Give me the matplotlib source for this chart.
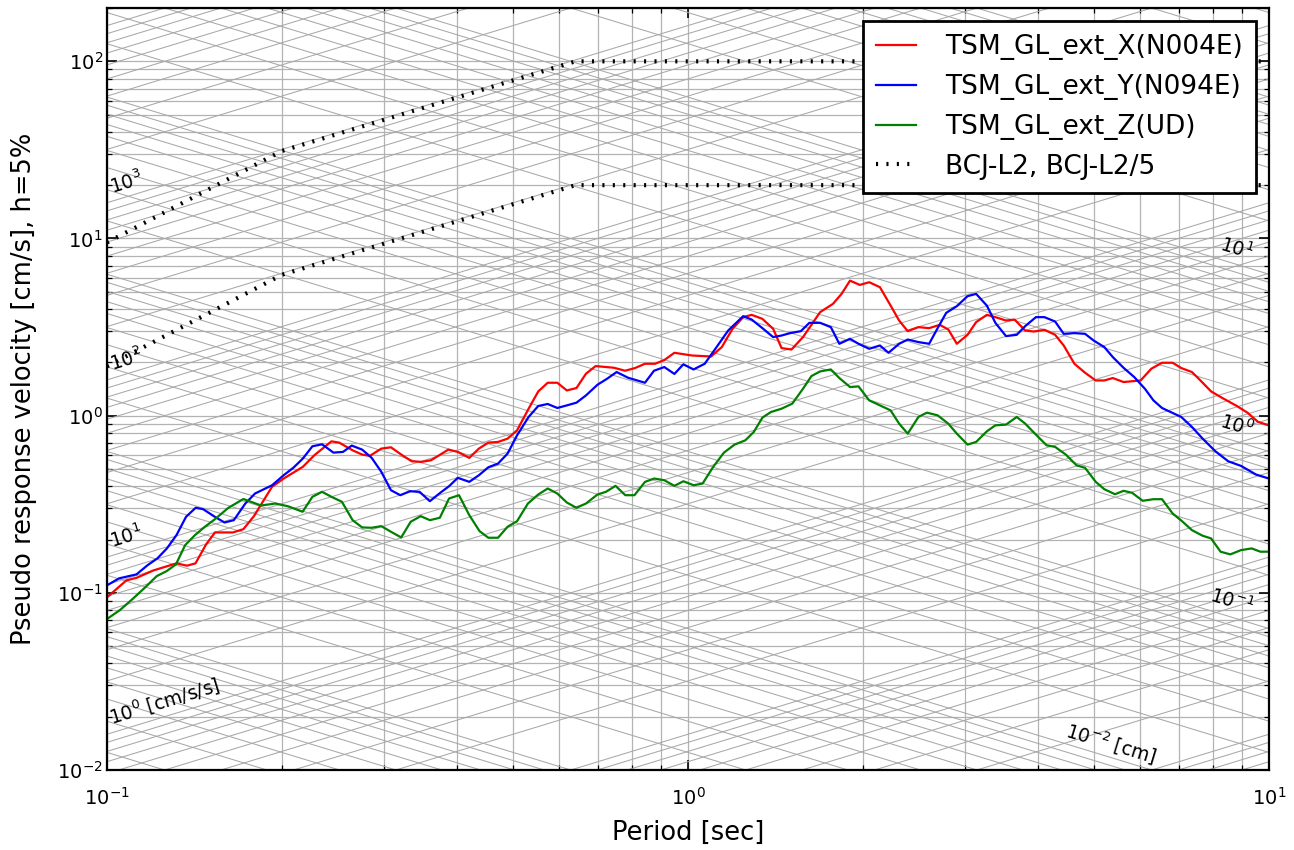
import numpy as np
import matplotlib
matplotlib.use("Agg")
import matplotlib.pyplot as plt

# ---------------- data ----------------
x_period = [0.1, 0.108, 0.1124, 0.1202, 0.1317, 0.1373, 0.142, 0.1481, 0.1534, 0.1647,
            0.1717, 0.1791, 0.1923, 0.2014, 0.2173, 0.2274, 0.2434, 0.251, 0.2647, 0.2749,
            0.2834, 0.2966, 0.3081, 0.3223, 0.3346, 0.3476, 0.3611, 0.3868, 0.4016, 0.4203,
            0.4366, 0.4533, 0.471, 0.4892, 0.5079, 0.5317, 0.5524, 0.5735, 0.5957, 0.6187,
            0.6427, 0.6674, 0.6934, 0.7458, 0.7791, 0.8107, 0.8432, 0.8774, 0.9104, 0.9475,
            1.0156, 1.0958, 1.1433, 1.1929, 1.2445, 1.287, 1.3429, 1.4014, 1.449, 1.507,
            1.5773, 1.688, 1.7761, 1.8377, 1.9004, 1.9755, 2.0507, 2.1397, 2.2322, 2.3088,
            2.3888, 2.4924, 2.6004, 2.7121, 2.8056, 2.9018, 3.0279, 3.1329, 3.2685, 3.3806,
            3.5266, 3.6475, 3.8056, 3.9376, 4.1065, 4.2843, 4.4328, 4.6248, 4.8239, 5.0321,
            5.2066, 5.385, 5.6177, 6.0117, 6.2721, 6.5441, 6.825, 7.0622, 7.368, 7.6205,
            7.9504, 8.2951, 8.8022, 9.1808, 9.5775, 10.0]
x_sv = [0.0943, 0.1176, 0.1215, 0.1338, 0.1467, 0.1423, 0.1467, 0.1876, 0.2192, 0.2192,
        0.2288, 0.2715, 0.3966, 0.4417, 0.5141, 0.5975, 0.7163, 0.7044, 0.6374, 0.603,
        0.5929, 0.6518, 0.6629, 0.5975, 0.5528, 0.5485, 0.56, 0.6432, 0.6243, 0.5777,
        0.6518, 0.7044, 0.7108, 0.7418, 0.8264, 1.095, 1.37, 1.534, 1.534, 1.388,
        1.432, 1.725, 1.905, 1.864, 1.793, 1.857, 1.963, 1.963, 2.06, 2.264,
        2.186, 2.158, 2.438, 3.091, 3.598, 3.707, 3.519, 3.091, 2.406, 2.363,
        2.776, 3.839, 4.275, 4.868, 5.783, 5.47, 5.665, 5.31, 4.182, 3.443,
        3.0, 3.16, 3.119, 3.256, 3.064, 2.545, 2.86, 3.373, 3.707, 3.598,
        3.443, 3.487, 3.024, 2.985, 3.051, 2.86, 2.489, 1.963, 1.747, 1.58,
        1.58, 1.631, 1.548, 1.58, 1.84, 1.989, 1.989, 1.857, 1.763, 1.58,
        1.37, 1.263, 1.134, 1.04, 0.9215, 0.8818]

y_period = [0.1, 0.1049, 0.1124, 0.1175, 0.1221, 0.1268, 0.1317, 0.1368, 0.1421, 0.1464,
            0.1533, 0.1593, 0.1653, 0.173, 0.1798, 0.1924, 0.2014, 0.2092, 0.2173, 0.2257,
            0.2345, 0.2453, 0.2548, 0.2638, 0.2749, 0.2855, 0.2966, 0.3081, 0.3198, 0.3321,
            0.3451, 0.3595, 0.3752, 0.3879, 0.4016, 0.4203, 0.4366, 0.4533, 0.471, 0.4892,
            0.5079, 0.5317, 0.5524, 0.5735, 0.5957, 0.6187, 0.6427, 0.6674, 0.6986, 0.7257,
            0.7536, 0.7886, 0.8432, 0.8739, 0.9104, 0.9475, 0.9819, 1.022, 1.0684, 1.1146,
            1.1727, 1.2445, 1.287, 1.3429, 1.4014, 1.449, 1.4994, 1.5642, 1.6178, 1.688,
            1.7614, 1.8217, 1.9004, 1.9654, 2.0507, 2.1397, 2.2137, 2.3088, 2.3888, 2.4924,
            2.6004, 2.6896, 2.7823, 2.9018, 3.0279, 3.1329, 3.2685, 3.3806, 3.5266, 3.6795,
            3.8056, 3.9705, 4.1065, 4.2843, 4.4328, 4.6248, 4.8239, 4.9905, 5.2066, 5.385,
            5.6177, 5.8614, 6.115, 6.3249, 6.5441, 6.7685, 7.0622, 7.368, 7.6872, 8.087,
            8.5073, 8.9485, 9.4983, 10.0]
y_sv = [0.1102, 0.1207, 0.1271, 0.1434, 0.1565, 0.1781, 0.2117, 0.2687, 0.302, 0.2965,
        0.2687, 0.2495, 0.2571, 0.3192, 0.3636, 0.4049, 0.461, 0.5075, 0.5727, 0.6716,
        0.6893, 0.6187, 0.6243, 0.6778, 0.6432, 0.5777, 0.4818, 0.3795, 0.3557, 0.3746,
        0.3717, 0.329, 0.3684, 0.3997, 0.4457, 0.4232, 0.461, 0.5115, 0.5364, 0.6109,
        0.7744, 0.9833, 1.134, 1.164, 1.105, 1.143, 1.184, 1.301, 1.495, 1.616,
        1.763, 1.637, 1.534, 1.793, 1.881, 1.72, 1.95, 1.823, 1.963, 2.385,
        3.024, 3.645, 3.487, 3.119, 2.776, 2.834, 2.924, 3.0, 3.342, 3.342,
        3.16, 2.545, 2.715, 2.545, 2.385, 2.489, 2.264, 2.545, 2.69, 2.602,
        2.545, 3.119, 3.804, 4.15, 4.725, 4.868, 4.182, 3.342, 2.812, 2.86,
        3.202, 3.598, 3.598, 3.399, 2.897, 2.924, 2.897, 2.656, 2.438, 2.141,
        1.864, 1.652, 1.419, 1.22, 1.105, 1.049, 0.9833, 0.8636, 0.7418, 0.6292,
        0.5528, 0.5207, 0.4652, 0.4417]

z_period = [0.1, 0.1053, 0.111, 0.1162, 0.1218, 0.1267, 0.1314, 0.1363, 0.1417, 0.1474,
            0.1534, 0.1618, 0.1717, 0.1841, 0.195, 0.2049, 0.2171, 0.2257, 0.2345, 0.2434,
            0.2537, 0.2647, 0.2749, 0.2855, 0.2966, 0.3081, 0.3209, 0.3332, 0.3467, 0.3595,
            0.374, 0.3879, 0.4035, 0.4203, 0.4378, 0.4533, 0.471, 0.4892, 0.5079, 0.5302,
            0.5524, 0.5735, 0.5957, 0.6187, 0.6427, 0.6674, 0.6986, 0.7224, 0.7503, 0.78,
            0.8088, 0.8435, 0.8747, 0.9104, 0.9475, 0.9819, 1.0225, 1.0596, 1.1051, 1.153,
            1.2027, 1.2548, 1.298, 1.3429, 1.3893, 1.449, 1.5118, 1.5773, 1.6313, 1.688,
            1.7614, 1.8217, 1.9004, 1.9654, 2.0507, 2.1397, 2.2322, 2.3088, 2.3888, 2.4924,
            2.5777, 2.6896, 2.8056, 2.9018, 3.0279, 3.1329, 3.2685, 3.3806, 3.5266, 3.6795,
            3.8056, 3.9705, 4.1418, 4.2843, 4.4699, 4.6635, 4.8239, 5.0321, 5.2066, 5.4321,
            5.6177, 5.8127, 6.0617, 6.3249, 6.5441, 6.825, 7.0845, 7.368, 7.6872, 7.9504,
            8.2526, 8.5783, 8.9485, 9.3381, 9.6616, 10.0]
z_sv = [0.07118, 0.08, 0.09312, 0.107, 0.1243, 0.1327, 0.1447, 0.1859, 0.2117, 0.236,
        0.2605, 0.302, 0.3385, 0.3112, 0.3192, 0.308, 0.2868, 0.3483, 0.3717, 0.3483,
        0.3265, 0.2571, 0.2339, 0.233, 0.2379, 0.2212, 0.2054, 0.2519, 0.2709, 0.2571,
        0.2653, 0.3407, 0.3557, 0.2745, 0.2229, 0.2046, 0.2046, 0.236, 0.2538, 0.3192,
        0.3589, 0.388, 0.3636, 0.3234, 0.302, 0.3192, 0.3589, 0.3717, 0.4017, 0.3557,
        0.3557, 0.4232, 0.4417, 0.432, 0.4017, 0.4264, 0.4049, 0.4139, 0.5141, 0.6187,
        0.6866, 0.7256, 0.8094, 0.9744, 1.049, 1.095, 1.169, 1.419, 1.674, 1.777,
        1.823, 1.631, 1.451, 1.463, 1.22, 1.143, 1.071, 0.9014, 0.7918, 0.9833,
        1.04, 1.004, 0.9014, 0.7918, 0.6866, 0.7108, 0.8157, 0.8818, 0.8899, 0.9833,
        0.9014, 0.7816, 0.6804, 0.6664, 0.603, 0.5248, 0.5075, 0.4232, 0.3845, 0.3602,
        0.3765, 0.3669, 0.3307, 0.3377, 0.3377, 0.2805, 0.2538, 0.2258, 0.21, 0.2028,
        0.1707, 0.1648, 0.1742, 0.1781, 0.1707, 0.1707]

bcj_period = [0.1, 0.2, 0.64, 10.0]
bcj_l2 = [9.5, 31.2, 100.0, 100.0]
bcj_l2_5 = [1.9, 6.24, 20.0, 20.0]

series_labels = ["TSM_GL_ext_X(N004E)", "TSM_GL_ext_Y(N094E)", "TSM_GL_ext_Z(UD)"]
bcj_label = "BCJ-L2, BCJ-L2/5"

acc_label_levels = [1.0, 10.0, 100.0, 1000.0]
acc_label_texts = [r"$10^{0}$ [cm/s/s]", r"$10^{1}$", r"$10^{2}$", r"$10^{3}$"]
dis_label_levels = [10.0, 1.0, 0.1]
dis_label_texts = [r"$10^{1}$", r"$10^{0}$", r"$10^{-1}$"]
dis_bottom_level = 0.01
dis_bottom_text = r"$10^{-2}$ [cm]"

# ---------------- figure ----------------
W, H = 1294, 850
fig = plt.figure(figsize=(W / 100, H / 100), dpi=100)
ax = fig.add_axes([107 / W, 80 / H, 1162 / W, 762 / H])
ax.set_xscale("log")
ax.set_yscale("log")
ax.set_xlim(0.1, 10)
ax.set_ylim(0.01, 200)

# orthogonal grid
ax.set_axisbelow(True)
ax.grid(True, which="both", color="#b3b3b3", lw=0.9, zorder=0)

# tripartite diagonal grid
Tg = np.array([0.1, 10.0])
dcol = "#a8a8a8"
for e in range(-3, 5):
    for k in range(1, 10):
        A = k * 10.0 ** e
        ax.plot(Tg, A * Tg / (2 * np.pi), color=dcol, lw=0.75, zorder=1)
for e in range(-4, 3):
    for k in range(1, 10):
        D = k * 10.0 ** e
        ax.plot(Tg, 2 * np.pi * D / Tg, color=dcol, lw=0.75, zorder=1)

# angles of diagonal lines on screen
p0 = ax.transData.transform((0.1, 1.0))
pa = ax.transData.transform((1.0, 10.0))
pd = ax.transData.transform((1.0, 0.1))
ang_a = np.degrees(np.arctan2(pa[1] - p0[1], pa[0] - p0[0]))
ang_d = np.degrees(np.arctan2(pd[1] - p0[1], pd[0] - p0[0]))

lab_fs = 13.5
T0 = 0.1025
for A, s in zip(acc_label_levels, acc_label_texts):
    ax.text(T0, A * T0 / (2 * np.pi) * 1.04, s, rotation=ang_a, rotation_mode="anchor",
            ha="left", va="bottom", fontsize=lab_fs, zorder=3)
T1 = 9.25
for D, s in zip(dis_label_levels, dis_label_texts):
    ax.text(T1, 2 * np.pi * D / T1 * 1.06, s, rotation=ang_d, rotation_mode="anchor",
            ha="right", va="bottom", fontsize=lab_fs, zorder=3)
T2 = 6.3
ax.text(T2, 2 * np.pi * dis_bottom_level / T2 * 1.02, dis_bottom_text, rotation=ang_d,
        rotation_mode="anchor", ha="right", va="bottom", fontsize=lab_fs, zorder=3)

# BCJ spectra
dot_style = (0, (0.5, 2.0))
ax.plot(bcj_period, bcj_l2, color="black", lw=3, linestyle=dot_style, zorder=4,
        label=bcj_label)
ax.plot(bcj_period, bcj_l2_5, color="black", lw=3, linestyle=dot_style, zorder=4)

# response spectra
ax.plot(x_period, x_sv, color="red", lw=1.6, zorder=5, label=series_labels[0])
ax.plot(y_period, y_sv, color="blue", lw=1.6, zorder=5, label=series_labels[1])
ax.plot(z_period, z_sv, color="green", lw=1.6, zorder=5, label=series_labels[2])

# ticks & spines
ax.tick_params(which="both", direction="in", top=True, right=True, labelsize=14)
ax.tick_params(which="major", length=7, width=1.2)
ax.tick_params(which="minor", length=3.5, width=0.9)
ax.tick_params(axis="y", pad=3)
ax.tick_params(axis="x", pad=12)
for sp in ax.spines.values():
    sp.set_linewidth(1.6)
    sp.set_color("black")
    sp.set_zorder(6)

ax.set_xlabel("Period [sec]", fontsize=18.5)
ax.set_ylabel("Pseudo response velocity [cm/s], h=5%", fontsize=18.5)
ax.xaxis.set_label_coords(0.5, -0.066)
ax.yaxis.set_label_coords(-0.06, 0.5)

# legend (order: X, Y, Z, BCJ)
handles, labels = ax.get_legend_handles_labels()
order = [labels.index(l) for l in series_labels + [bcj_label]]
leg = ax.legend([handles[i] for i in order], [labels[i] for i in order],
                loc="upper right", fontsize=19, frameon=True, fancybox=False,
                framealpha=1.0, edgecolor="black", borderaxespad=0.5,
                handlelength=1.5, handletextpad=1.1, labelspacing=0.52,
                borderpad=0.5)
leg.get_frame().set_linewidth(2.0)
leg.set_zorder(10)

fig.savefig("out.png", dpi=100)
